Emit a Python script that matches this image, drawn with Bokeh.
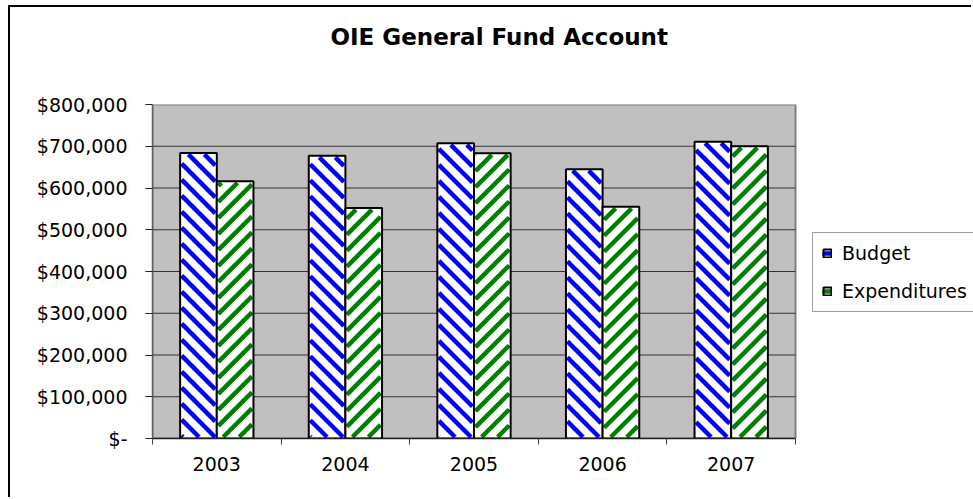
import numpy as np
from bokeh.plotting import figure
from bokeh.models import (Range1d, FixedTicker, Legend, LegendItem, Title)
from bokeh.embed import file_html
from bokeh.resources import INLINE

# ---- data ----
years = ["2003", "2004", "2005", "2006", "2007"]
budget = [684000, 677000, 707000, 645000, 711000]
expenditures = [616000, 552000, 683000, 555000, 700000]
y_ticks = [0, 100000, 200000, 300000, 400000, 500000, 600000, 700000, 800000]
y_tick_labels = ["$-", "$100,000", "$200,000", "$300,000", "$400,000",
                 "$500,000", "$600,000", "$700,000", "$800,000"]
title_text = "OIE General Fund Account"

FONT = "DejaVu Sans"
OX, OY = 10, 7                   # canvas origin inside the outer chart border
W, H = 973 - OX, 499 - OY
PLOT_L, PLOT_R, PLOT_T, PLOT_B = 152, 795, 104, 438   # plot-area pixels

n = len(years)
y_max = y_ticks[-1]
x_end = n * (973 - PLOT_L) / (PLOT_R - PLOT_L)   # frame runs to the right edge

p = figure(width=W, height=H, output_backend="svg", toolbar_location=None,
           title=None,
           x_range=Range1d(0, x_end), y_range=Range1d(0, y_max),
           min_border_left=PLOT_L - OX, min_border_right=0,
           min_border_top=PLOT_T - OY, min_border_bottom=499 - PLOT_B,
           margin=(OY - 2, 0, 0, OX - 2),
           styles={"border-left": "2px solid black",
                   "border-top": "2px solid black"})

p.background_fill_color = "white"
p.border_fill_color = "white"
p.outline_line_color = None

# titles: a spacer closest to the frame, then the real title above it
spacer = Title(text=" ", text_font_size="1px", standoff=52)
title = Title(text=title_text, text_font=FONT, text_font_style="bold",
              text_font_size="23px", text_color="black", align="left",
              offset=178, standoff=0, vertical_align="bottom")
p.add_layout(spacer, "above")
p.add_layout(title, "above")

# plot area (gray) and gridlines
p.quad(left=0, right=n, bottom=y_ticks[0], top=y_max,
       fill_color="#C0C0C0", line_color="#808080", line_width=2)
p.segment(x0=[0] * (len(y_ticks) - 2), x1=[n] * (len(y_ticks) - 2),
          y0=y_ticks[1:-1], y1=y_ticks[1:-1], line_color="#333333", line_width=1)

# bars
bw = 0.285
centers = np.arange(n) + 0.5
b_left = centers - bw
e_left = centers.copy()

# 45-degree stripe pattern inside each bar (pixel geometry -> data units)
SX = (PLOT_R - PLOT_L) / n          # px per x unit
SY = (PLOT_B - PLOT_T) / y_max      # px per y unit
PERIOD, INSET = 16.0, 1.5


def stripes(lefts, tops, backslash):
    x0, y0, x1, y1 = [], [], [], []
    wpx = bw * SX
    a0, a1 = INSET, wpx - INSET
    for xl, t in zip(lefts, tops):
        hpx = t * SY
        b0, b1 = INSET, hpx - INSET
        phase = (xl * SX) % PERIOD
        if backslash:          # v = c - u
            for c in np.arange(-phase, wpx + hpx + PERIOD, PERIOD):
                lo, hi = max(a0, c - b1), min(a1, c - b0)
                if hi > lo:
                    x0.append(xl + lo / SX); y0.append((c - lo) / SY)
                    x1.append(xl + hi / SX); y1.append((c - hi) / SY)
        else:                  # v = u + c
            for c in np.arange(-wpx - phase, hpx + PERIOD, PERIOD):
                lo, hi = max(a0, b0 - c), min(a1, b1 - c)
                if hi > lo:
                    x0.append(xl + lo / SX); y0.append((lo + c) / SY)
                    x1.append(xl + hi / SX); y1.append((hi + c) / SY)
    return dict(x0=x0, y0=y0, x1=x1, y1=y1)


def hatched_bars(lefts, tops, color, backslash):
    base = p.vbar(x=lefts + bw / 2, top=tops, width=bw, bottom=0,
                  fill_color="white", line_color=None)
    s = stripes(lefts, tops, backslash)
    seg = p.segment(x0=s["x0"], y0=s["y0"], x1=s["x1"], y1=s["y1"],
                    line_color=color, line_width=4.5, line_cap="butt")
    edge = p.vbar(x=lefts + bw / 2, top=tops, width=bw, bottom=0,
                  fill_color=None, line_color="black", line_width=2)
    return [base, seg, edge]


rb = hatched_bars(b_left, budget, "#0000FF", True)
re_ = hatched_bars(e_left, expenditures, "#008000", False)

# x axis: labels centred, tick marks at category boundaries
xa = p.xaxis[0]
xa.bounds = (0, n)
xa.ticker = FixedTicker(ticks=list(centers), minor_ticks=list(range(n + 1)))
xa.major_label_overrides = {float(c): y for c, y in zip(centers, years)}
xa.major_tick_out = 0
xa.major_tick_in = 0
xa.minor_tick_out = 6
xa.minor_tick_in = 0
xa.minor_tick_line_color = "#404040"
xa.axis_line_color = "#202020"
xa.axis_line_width = 1.5
xa.major_label_text_font = FONT
xa.major_label_text_font_size = "19px"
xa.major_label_text_color = "black"
xa.major_label_standoff = 12

ya = p.yaxis[0]
ya.ticker = FixedTicker(ticks=y_ticks)
ya.major_label_overrides = {t: l for t, l in zip(y_ticks, y_tick_labels)}
ya.major_tick_out = 7
ya.major_tick_in = 0
ya.major_tick_line_color = "#202020"
ya.minor_tick_line_color = None
ya.axis_line_color = "#606060"
ya.axis_line_width = 1.5
ya.major_label_text_font = FONT
ya.major_label_text_font_size = "19px"
ya.major_label_text_color = "black"
ya.major_label_standoff = 18

p.xgrid.grid_line_color = None
p.ygrid.grid_line_color = None

legend = Legend(items=[LegendItem(label="Budget", renderers=rb),
                       LegendItem(label="Expenditures", renderers=re_)],
                location=(812 - PLOT_L, PLOT_B - 312), margin=0, padding=9, spacing=16,
                glyph_width=10, glyph_height=10, label_standoff=10,
                label_text_font=FONT, label_text_font_size="19px",
                label_text_color="black", label_height=22,
                border_line_color="#404040", border_line_width=1,
                background_fill_color="white", background_fill_alpha=1)
p.add_layout(legend, "center")

open("out.html", "w").write(file_html(p, INLINE))
